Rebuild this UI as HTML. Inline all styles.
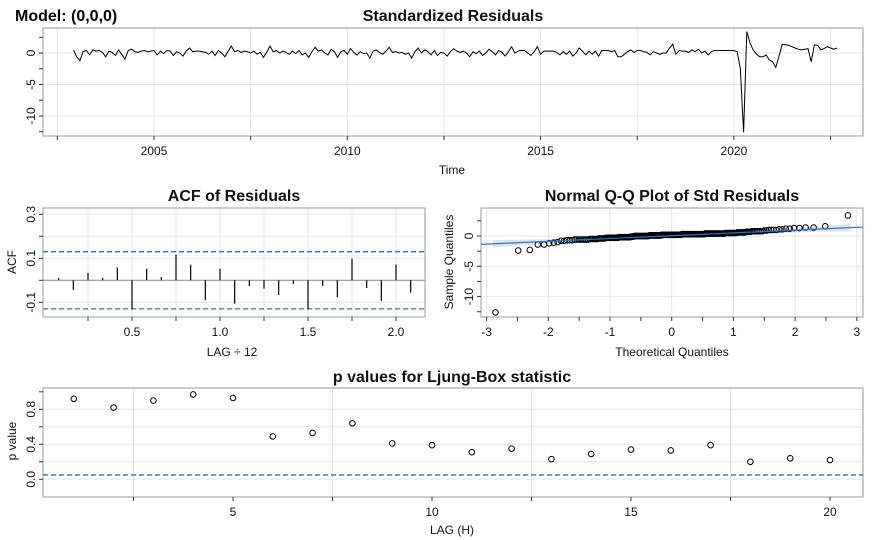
<!DOCTYPE html>
<html><head><meta charset="utf-8"><style>
html,body{margin:0;padding:0;background:#fff;}
svg{display:block;font-family:"Liberation Sans",Arial,sans-serif;}
</style></head><body>
<svg id="chart" width="875" height="540" viewBox="0 0 875 540">
<text x="15" y="21" font-size="16" font-weight="bold">Model: (0,0,0)</text>
</svg>
<script>
// ---------- data ----------
const residPre = [0.5,-0.6,-1.2,0.2,0.4,-0.3,0.5,0.3,0.4,0.1,-0.6,0.3,0.1,-0.4,0.5,-0.2,-1.0,0.4,0.6,0.2,0.1,0.3,0.4,0.2,0.3,0.4,-0.3,0.3,-0.1,0.4,0.3,-0.4,0.2,0.0,-0.5,0.3,0.8,0.2,0.3,0.3,0.2,0.1,-0.2,0.3,-0.4,0.4,0.0,-0.6,0.3,1.1,0.2,0.4,0.1,0.3,0.2,0.0,0.3,-0.2,0.1,-0.7,0.2,1.1,0.2,0.4,0.0,0.3,0.1,-0.2,0.3,-0.1,0.4,-0.3,0.0,-0.7,0.2,0.9,0.3,0.5,0.0,-0.3,0.6,0.2,-0.7,0.2,0.4,-0.2,0.7,0.1,-0.3,0.2,-0.1,0.0,-0.8,0.3,0.5,0.1,-0.2,0.3,0.9,0.1,0.2,0.0,0.1,-0.2,0.0,-0.8,0.2,0.8,0.0,0.5,0.2,-0.3,0.4,-0.4,0.1,0.0,-0.5,0.2,0.7,0.3,0.1,0.3,0.0,-0.6,0.2,-0.1,0.3,-0.4,0.0,0.6,0.2,-0.3,0.4,0.1,-0.5,0.2,1.0,0.0,0.3,0.4,0.4,0.0,-0.4,0.2,1.0,-0.2,0.3,0.3,0.3,0.3,0.1,-0.3,0.2,-0.2,0.3,-0.5,0.0,0.8,0.3,-0.3,0.3,-0.2,0.3,-0.5,0.4,0.4,0.4,0.2,0.4,-0.6,-0.6,-0.2,0.2,0.5,0.1,0.4,0.4,0.2,0.1,-0.3,0.2,0.0,-0.2,0.0,0.0,0.8,1.4,-0.2,0.4,0.3,0.3,0.1,0.5,0.2,0.6,0.0,0.3,-0.3,0.2,0.4];
const residPost = [0.4,0.2,-2.4,-12.6,3.4,1.6,0.5,-0.2,-0.6,-0.6,-0.3,-1.1,-1.4,-2.3,-0.5,1.4,1.3,1.2,1.0,0.8,0.6,0.5,0.6,0.7,-1.4,1.3,1.2,0.5,0.7,1.0,0.8,0.6,0.8];
const preStart = 2002.917;
const postStart = 2020.0;
const acfLags = [1,2,3,4,5,6,7,8,9,10,11,12,13,14,15,16,17,18,19,20,21,22,23,24,25];
const acfValues = [0.011,-0.044,0.033,0.011,0.058,-0.132,0.053,0.015,0.117,0.071,-0.091,0.053,-0.106,-0.026,-0.038,-0.067,-0.017,-0.132,-0.026,-0.076,0.098,-0.035,-0.094,0.071,-0.056];
const acfBound = 0.13;
const lbLags = [1,2,3,4,5,6,7,8,9,10,11,12,13,14,15,16,17,18,19,20];
const lbPvalues = [0.92,0.82,0.90,0.97,0.93,0.49,0.53,0.64,0.41,0.39,0.31,0.35,0.23,0.29,0.34,0.33,0.39,0.20,0.24,0.22];
const lbLevel = 0.05;
const tsXTicks = [2005,2010,2015,2020];
const tsYTicks = [0,-5,-10];
const acfXTicks = [0.5,1.0,1.5,2.0];
const acfYTicks = [0.3,0.1,-0.1];
const qqXTicks = [-3,-2,-1,0,1,2,3];
const qqYTicks = [0,-5,-10];
const lbXTicks = [5,10,15,20];
const lbYTicks = [0.0,0.4,0.8];

// ---------- helpers ----------
const NS = "http://www.w3.org/2000/svg";
const svg = document.getElementById('chart');
function mk(tag, attrs, parent) {
  const el = document.createElementNS(NS, tag);
  for (const k in attrs) el.setAttribute(k, attrs[k]);
  (parent || svg).appendChild(el);
  return el;
}
function lin(d0, d1, r0, r1) { return v => r0 + (v - d0) * (r1 - r0) / (d1 - d0); }
function fmt(v, d) { return d ? v.toFixed(d) : String(v); }

function panel(name, box, sx, sy, xTicks, yTicks, xMinor, xGrid, yGrid, yMinor, dec) {
  const g = mk('g', {});
  
  
  xGrid.forEach(v => { const l = mk('line', {x1: sx(v), x2: sx(v), y1: box.t, y2: box.b, stroke: '#e6e6e6', 'stroke-width': 1}, g);
      });
  yGrid.forEach(v => { const l = mk('line', {x1: box.l, x2: box.r, y1: sy(v), y2: sy(v), stroke: '#e6e6e6', 'stroke-width': 1}, g);
      });
  const frame = mk('rect', {x: box.l, y: box.t, width: box.r - box.l, height: box.b - box.t, fill: 'none', stroke: '#9a9a9a', 'stroke-width': 1}, g);
  
  
  xTicks.concat(xMinor).forEach(v => { const t = mk('line', {x1: sx(v), x2: sx(v), y1: box.b, y2: box.b + 4, stroke: '#333'}, g);
      });
  xTicks.forEach(v => { const t = mk('text', {x: sx(v), y: box.b + 19, 'font-size': 12, 'text-anchor': 'middle', fill: '#111'}, g);
    t.textContent = fmt(v, dec.x);
      });
  yTicks.concat(yMinor).forEach(v => { const t = mk('line', {x1: box.l - 4, x2: box.l, y1: sy(v), y2: sy(v), stroke: '#333'}, g);
      });
  yTicks.forEach(v => { const x = box.l - 8, y = sy(v);
    const t = mk('text', {x: x, y: y, 'font-size': 12, 'text-anchor': 'middle', fill: '#111', transform: `rotate(-90 ${x} ${y})`}, g);
    t.textContent = fmt(v, dec.y);
      });
  return g;
}
function label(name, txt, x, y, opts) {
  const a = {x: x, y: y, 'font-size': opts.size || 12, 'text-anchor': 'middle', fill: '#111'};
  if (opts.bold) a['font-weight'] = 'bold';
  if (opts.rot) a.transform = `rotate(-90 ${x} ${y})`;
  const t = mk('text', a);
  t.textContent = txt;
  
  
}

// ---------- panel 1: standardized residuals ----------
{
  const box = {l: 43, r: 863, t: 28, b: 136};
  const sx = lin(2005, 2010, 154, 347.3);
  const sy = lin(0, -5, 53, 84.5);
  panel('residuals-panel', box, sx, sy, tsXTicks, tsYTicks, [2002.5, 2007.5, 2012.5, 2017.5, 2022.5],
        [2002.5, 2005, 2007.5, 2010, 2012.5, 2015, 2017.5, 2020, 2022.5], [0, -5, -10], [2.5, -2.5, -7.5, -12.5].filter(v => sy(v) > box.t && sy(v) < box.b), {x: 0, y: 0});
  const pts = residPre.map((v, i) => [preStart + i / 12, v]).concat(residPost.map((v, i) => [postStart + i / 12, v]));
  const line = mk('polyline', {points: pts.map(p => sx(p[0]).toFixed(1) + ',' + sy(p[1]).toFixed(1)).join(' '), fill: 'none', stroke: '#000', 'stroke-width': 1});
  
  
  label('residuals-title', 'Standardized Residuals', 453, 21, {bold: true, size: 16});
  label('x-axis-title-time', 'Time', 452, 174, {});
}

// ---------- panel 2: ACF ----------
{
  const box = {l: 43, r: 425, t: 208, b: 317};
  const sx = lin(0.5, 2.0, 132, 396);
  const sy = lin(0, 0.1, 280.3, 258.3);
  panel('acf-panel', box, sx, sy, acfXTicks, acfYTicks, [0.25, 0.75, 1.25, 1.75], [0.25, 0.5, 0.75, 1.0, 1.25, 1.5, 1.75, 2.0],
        [0.3, 0.2, 0.1, -0.1], [0.2, 0.0], {x: 1, y: 1});
  const z = mk('line', {x1: box.l, x2: box.r, y1: sy(0), y2: sy(0), stroke: '#888', 'stroke-width': 1});
  
  
  [acfBound, -acfBound].forEach(b => {
    const l = mk('line', {x1: box.l, x2: box.r, y1: sy(b), y2: sy(b), stroke: '#1f78d1', 'stroke-width': 1.3, 'stroke-dasharray': '5,3'});
    
    
  });
  acfLags.forEach((k, i) => {
    const x = sx(k / 12);
    const b = mk('line', {x1: x, x2: x, y1: sy(0), y2: sy(acfValues[i]), stroke: '#000', 'stroke-width': 1.2});
    
    
  });
  label('acf-title', 'ACF of Residuals', 234, 201, {bold: true, size: 16});
  label('acf-x-axis-title', 'LAG ÷ 12', 232, 356, {});
  label('acf-y-axis-title', 'ACF', 16, 262, {rot: true});
}

// ---------- panel 3: QQ ----------
function qnorm(p) {
  const a = [-39.6968302866538, 220.946098424521, -275.928510446969, 138.357751867269, -30.6647980661472, 2.50662827745924];
  const b = [-54.4760987982241, 161.585836858041, -155.698979859887, 66.8013118877197, -13.2806815528857];
  const c = [-0.00778489400243029, -0.322396458041136, -2.40097589212, -2.54973253934373, 4.37466414146497, 2.93816398269878];
  const d = [0.00778469570904146, 0.32246712907004, 2.445134137143, 3.75440866190742];
  const pl = 0.02425;
  let q, r;
  if (p < pl) { q = Math.sqrt(-2 * Math.log(p)); return (((((c[0]*q+c[1])*q+c[2])*q+c[3])*q+c[4])*q+c[5]) / ((((d[0]*q+d[1])*q+d[2])*q+d[3])*q+1); }
  if (p > 1 - pl) { q = Math.sqrt(-2 * Math.log(1 - p)); return -(((((c[0]*q+c[1])*q+c[2])*q+c[3])*q+c[4])*q+c[5]) / ((((d[0]*q+d[1])*q+d[2])*q+d[3])*q+1); }
  q = p - 0.5; r = q * q;
  return (((((a[0]*r+a[1])*r+a[2])*r+a[3])*r+a[4])*r+a[5])*q / (((((b[0]*r+b[1])*r+b[2])*r+b[3])*r+b[4])*r+1);
}
{
  const box = {l: 481, r: 863, t: 208, b: 317};
  const sx = lin(0, 1, 671.7, 733.4);
  const sy = lin(0, -5, 236, 266.3);
  panel('qq-panel', box, sx, sy, qqXTicks, qqYTicks, [-2.5, -1.5, -0.5, 0.5, 1.5, 2.5], [-3, -2, -1, 0, 1, 2, 3],
        [0, -5, -10], [2.5, -2.5, -7.5, -12.5].filter(v => sy(v) > box.t && sy(v) < box.b), {x: 0, y: 0});
  const slope = 0.46, icpt = 0.05;
  const up = [], lo = [];
  for (let x = -2.9; x <= 2.901; x += 0.1) {
    const w = 0.18 + 0.05 * x * x;
    up.push(sx(x).toFixed(1) + ',' + sy(icpt + slope * x + w).toFixed(1));
    lo.unshift(sx(x).toFixed(1) + ',' + sy(icpt + slope * x - w).toFixed(1));
  }
  const band = mk('polygon', {points: up.concat(lo).join(' '), fill: '#e2e2e2'});
  
  
  const all = residPre.concat(residPost).slice().sort((a, b) => a - b);
  const n = all.length;
  all.forEach((v, i) => {
    const tq = qnorm((i + 1 - 0.5) / n);
    const c = mk('circle', {cx: sx(tq).toFixed(1), cy: sy(v).toFixed(1), r: 2.8, fill: 'none', stroke: '#000', 'stroke-width': 1});
    
    
  });
  const ql = mk('line', {x1: box.l, x2: box.r, y1: sy(icpt + slope * -3.1), y2: sy(icpt + slope * 3.1), stroke: '#1f78d1', 'stroke-width': 1.2});
  
  
  label('qq-title', 'Normal Q-Q Plot of Std Residuals', 672, 201, {bold: true, size: 16});
  label('qq-x-axis-title', 'Theoretical Quantiles', 672, 356, {});
  label('qq-y-axis-title', 'Sample Quantiles', 453, 262, {rot: true});
}

// ---------- panel 4: Ljung-Box ----------
{
  const box = {l: 43, r: 863, t: 388, b: 497};
  const sx = lin(5, 10, 233, 432);
  const sy = lin(0, 0.4, 479.3, 444.3);
  panel('ljung-box-panel', box, sx, sy, lbXTicks, lbYTicks, [2.5, 7.5, 12.5, 17.5], [2.5, 7.5, 12.5, 17.5],
        [0, 0.2, 0.4, 0.6, 0.8], [0.2, 0.6, 1.0], {x: 0, y: 1});
  const lv = mk('line', {x1: box.l, x2: box.r, y1: sy(lbLevel), y2: sy(lbLevel), stroke: '#1f78d1', 'stroke-width': 1.3, 'stroke-dasharray': '5,3'});
  
  
  lbLags.forEach((k, i) => {
    const c = mk('circle', {cx: sx(k), cy: sy(lbPvalues[i]), r: 2.8, fill: 'none', stroke: '#000', 'stroke-width': 1});
    
    
  });
  label('ljung-box-title', 'p values for Ljung-Box statistic', 452, 382, {bold: true, size: 16});
  label('ljung-box-x-axis-title', 'LAG (H)', 452, 534, {});
  label('ljung-box-y-axis-title', 'p value', 16, 441, {rot: true});
}
</script>
</body></html>
